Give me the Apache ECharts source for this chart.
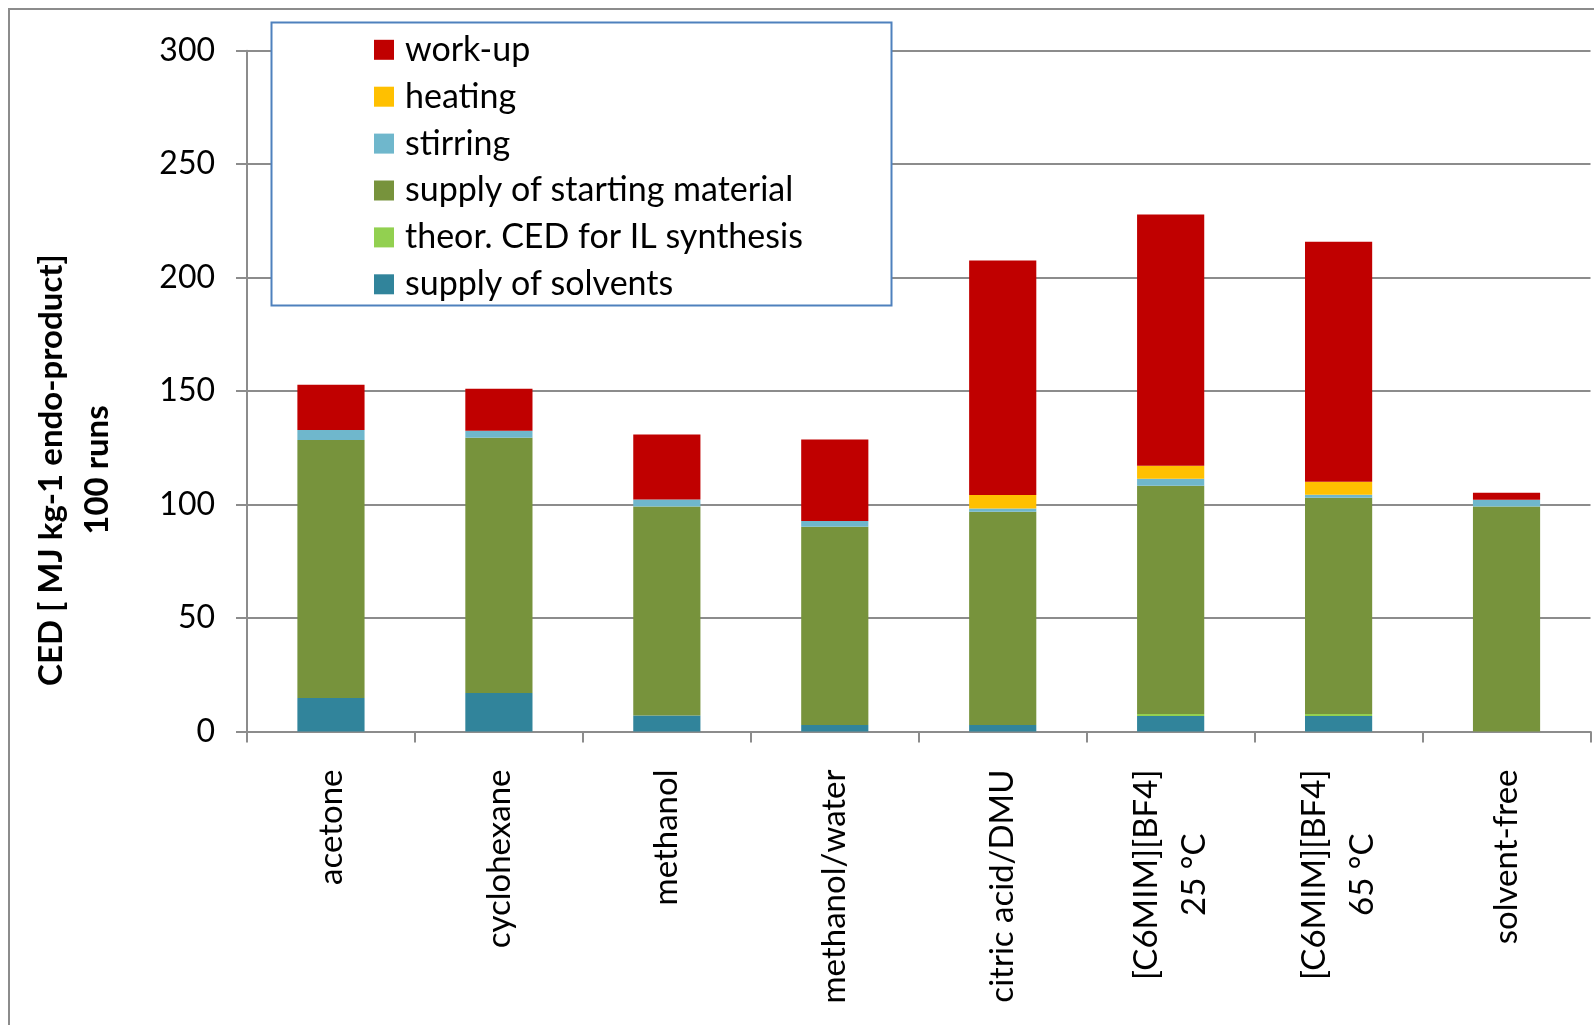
<!DOCTYPE html>
<html>
<head>
<meta charset="utf-8">
<title>CED per kg endo-product</title>
<script src="https://cdn.jsdelivr.net/npm/echarts@6/dist/echarts.min.js"></script>
<style>
  html, body { margin: 0; padding: 0; background: #ffffff; }
  #chart { width: 1594px; height: 1025px; }
</style>
</head>
<body>
<div id="chart"></div>
<script>
// Reaction media compared
const categories = [
  'acetone',
  'cyclohexane',
  'methanol',
  'methanol/water',
  'citric acid/DMU',
  '[C6MIM][BF4]\n25 °C',
  '[C6MIM][BF4]\n65 °C',
  'solvent-free'
];

// CED contributions, MJ per kg endo-product (100 runs), bottom of stack first
const supplyOfSolvents = [14.8, 17.0, 7.0, 2.9, 2.9, 6.8, 6.8, 0];
const theorCedIlSynthesis = [0, 0, 0, 0, 0, 0.9, 0.9, 0];
const supplyOfStartingMaterial = [113.7, 112.4, 92.1, 87.3, 93.9, 100.6, 95.3, 99.1];
const stirring = [4.4, 3.1, 3.1, 2.6, 1.5, 3.1, 1.3, 3.0];
const heating = [0, 0, 0, 0, 5.9, 5.7, 5.7, 0];
const workUp = [19.9, 18.5, 28.7, 35.9, 103.3, 110.7, 105.8, 3.1];

// Value axis
const yMin = 0;
const yMax = 300;
const yStep = 50;

const FONT = 'Lato, "Open Sans", sans-serif';
const GRID_GRAY = '#8c8c8c';

const seriesDefs = [
  { name: 'supply of solvents', data: supplyOfSolvents, color: '#31849B' },
  { name: 'theor. CED for IL synthesis', data: theorCedIlSynthesis, color: '#92D050' },
  { name: 'supply of starting material', data: supplyOfStartingMaterial, color: '#77933C' },
  { name: 'stirring', data: stirring, color: '#6FB7CC' },
  { name: 'heating', data: heating, color: '#FFC000' },
  { name: 'work-up', data: workUp, color: '#C00000' }
];

const chart = echarts.init(document.getElementById('chart'), null, { renderer: 'canvas' });

const option = {
  backgroundColor: '#ffffff',
  animation: false,
  textStyle: { fontFamily: FONT },
  grid: {
    left: 247,
    right: 3.5,
    top: 50.7,
    bottom: 293.5,
    containLabel: false,
    outerBoundsMode: 'none'
  },
  legend: {
    orient: 'vertical',
    left: 374,
    top: 32.8,
    padding: 0,
    itemWidth: 20,
    itemHeight: 20,
    itemGap: 12.9,
    icon: 'rect',
    z: 10,
    data: ['work-up', 'heating', 'stirring', 'supply of starting material',
           'theor. CED for IL synthesis', 'supply of solvents'],
    textStyle: {
      fontFamily: FONT,
      fontSize: 34,
      lineHeight: 34,
      color: '#000000',
      padding: [0, 0, 0, 6]
    }
  },
  xAxis: {
    type: 'category',
    data: categories,
    axisLine: { show: true, lineStyle: { color: GRID_GRAY, width: 2 } },
    axisTick: { show: true, length: 11, lineStyle: { color: GRID_GRAY, width: 2 } },
    axisLabel: {
      interval: 0,
      rotate: 90,
      margin: 38,
      color: '#000000',
      fontFamily: FONT,
      fontSize: 33,
      formatter: function (v) {
        return v.split('\n').map(function (s) { return '{c|' + s + '}'; }).join('\n');
      },
      rich: {
        c: { align: 'center', fontFamily: FONT, fontSize: 33, lineHeight: 48, color: '#000000' }
      }
    }
  },
  yAxis: {
    type: 'value',
    min: yMin,
    max: yMax,
    interval: yStep,
    axisLine: { show: true, lineStyle: { color: GRID_GRAY, width: 2 } },
    axisTick: { show: true, length: 11, lineStyle: { color: GRID_GRAY, width: 2 } },
    splitLine: { show: true, lineStyle: { color: GRID_GRAY, width: 2 } },
    axisLabel: {
      margin: 32,
      color: '#000000',
      fontFamily: FONT,
      fontSize: 32
    }
  },
  graphic: [
    {
      type: 'rect',
      z: 0,
      shape: { x: 9, y: 9, width: 1600, height: 1040 },
      style: { fill: 'none', stroke: GRID_GRAY, lineWidth: 2 }
    },
    {
      type: 'rect',
      z: 5,
      shape: { x: 271.5, y: 22.4, width: 620, height: 283 },
      style: { fill: '#ffffff', stroke: '#4F81BD', lineWidth: 2 }
    },
    {
      type: 'text',
      z: 5,
      x: 74,
      y: 470,
      rotation: Math.PI / 2,
      style: {
        text: 'CED [ MJ kg-1 endo-product]\n100 runs',
        font: 'bold 33px ' + FONT,
        fill: '#000000',
        align: 'center',
        verticalAlign: 'middle',
        lineHeight: 46
      }
    }
  ],
  series: seriesDefs.map(function (d) {
    return {
      name: d.name,
      type: 'bar',
      stack: 'ced',
      barWidth: '40%',
      data: d.data,
      itemStyle: { color: d.color },
      emphasis: { disabled: true }
    };
  })
};

chart.setOption(option);
</script>
</body>
</html>
